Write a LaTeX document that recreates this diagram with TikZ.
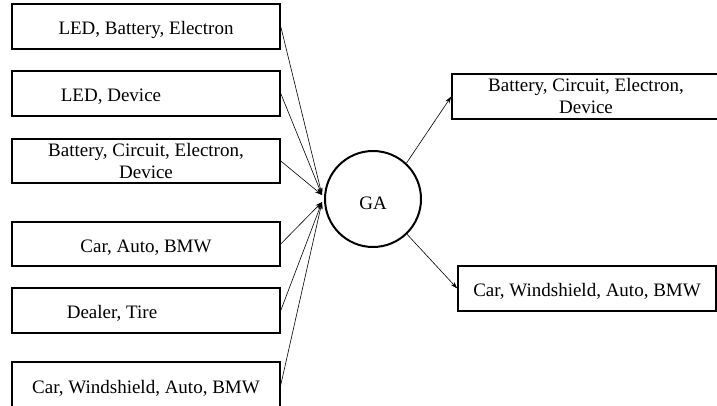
\documentclass[tikz,border=0pt]{standalone}
\usepackage{fontspec}
\setmainfont{Liberation Serif}
\usetikzlibrary{arrows.meta}
\begin{document}
\begin{tikzpicture}[x=1pt,y=-1pt,
  every node/.style={font=\fontsize{19}{22}\selectfont, inner sep=0pt},
  box/.style={draw, line width=1.5pt, minimum width=268pt, minimum height=45pt, align=center},
  oneline/.style={text height=20pt, text depth=4pt},
  conn/.style={line width=0.6pt, -{Stealth[length=7pt,width=4.5pt]}}]
\useasboundingbox (0,0) rectangle (717,406);
\node[box, oneline] (b1) at (146,26.5) {LED, Battery, Electron};
\node[box, oneline] (b2) at (146,93.5) {LED, Device\hspace*{70pt}};
\node[box, minimum height=44pt] (b3) at (146,161) {Battery, Circuit, Electron,\\Device};
\node[box, oneline, minimum height=44pt] (b4) at (146,244) {Car, Auto, BMW};
\node[box, oneline] (b5) at (146,310.5) {Dealer, Tire\hspace*{68pt}};
\node[box, oneline, minimum height=46pt] (b6) at (146,385) {Car, Windshield, Auto, BMW};
\node[draw, circle, line width=2pt, minimum size=96pt, text height=20pt, text depth=0pt] (ga) at (373,199) {GA};
\node[box] (r1) at (586,96.5) {Battery, Circuit, Electron,\\Device};
\node[box, oneline, minimum width=258pt] (r2) at (587,288.5) {Car, Windshield, Auto, BMW};
\coordinate (gaU) at (322,195);
\coordinate (gaL) at (322,202);
\draw[conn] (b1.east) -- (gaU);
\draw[conn] (b2.east) -- (gaU);
\draw[conn] (b3.east) -- (gaU);
\draw[conn] (b4.east) -- (gaL);
\draw[conn] (b5.east) -- (gaL);
\draw[conn] (b6.east) -- (gaL);
\draw[conn] (ga.47) -- (r1.west);
\draw[conn] (ga.-46) -- (r2.west);
\end{tikzpicture}
\end{document}
